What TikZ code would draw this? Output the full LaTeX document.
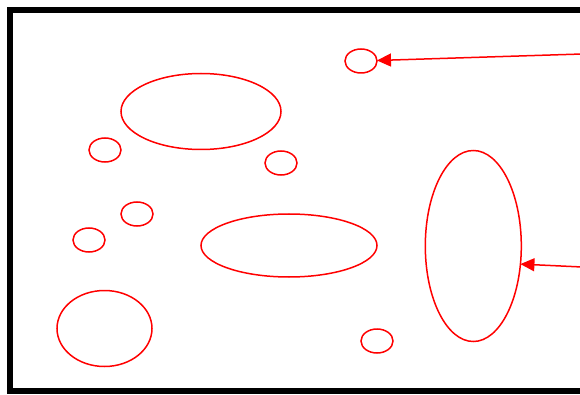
\documentclass[tikz,border=0pt]{standalone}
\usetikzlibrary{shapes.geometric,arrows.meta}
\begin{document}
\begin{tikzpicture}[x=1pt,y=-1pt,
  blob/.style={draw=red,line width=1.5pt,ellipse,inner sep=0pt,outer sep=0pt},
  conn/.style={draw=red,line width=1.5pt,-{Triangle[length=14pt,width=13pt]}}]
\useasboundingbox (0,0) rectangle (580,395);
\fill[white] (0,0) rectangle (580,395);
\draw[line width=6pt] (9.5,10) rectangle (610,391);
\node[blob,minimum width=32pt,minimum height=24pt] (e1) at (361,61) {};
\node[blob,minimum width=160pt,minimum height=76pt] (e2) at (201,111.5) {};
\node[blob,minimum width=32pt,minimum height=24pt] (e3) at (105,150) {};
\node[blob,minimum width=32pt,minimum height=24pt] (e4) at (281,163) {};
\node[blob,minimum width=32pt,minimum height=24pt] (e5) at (137,214) {};
\node[blob,minimum width=32pt,minimum height=24pt] (e6) at (89,240) {};
\node[blob,minimum width=176pt,minimum height=63pt] (e7) at (289,245.5) {};
\node[blob,minimum width=96pt,minimum height=191pt] (e8) at (473.3,246) {};
\node[blob,minimum width=95pt,minimum height=76pt] (e9) at (104.5,328.5) {};
\node[blob,minimum width=32pt,minimum height=24pt] (e10) at (377,341) {};
\coordinate (c1) at (582,54);
\coordinate (c2) at (582,267);
\draw[conn] (c1) -- (e1);
\draw[conn] (c2) -- (e8.-21.6);
\end{tikzpicture}
\end{document}
